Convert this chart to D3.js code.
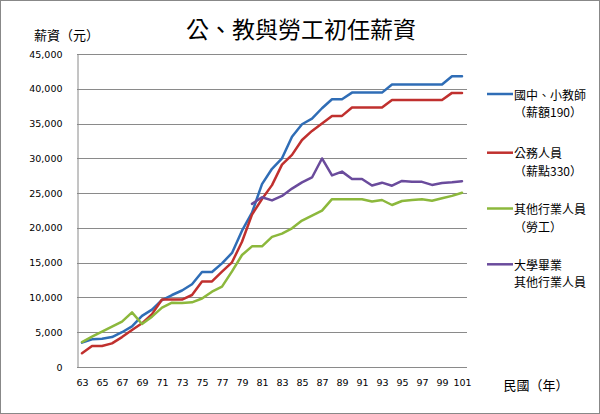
<!DOCTYPE html>
<html><head><meta charset="utf-8">
<script src="https://cdn.jsdelivr.net/npm/d3@7"></script>
<style>
html,body{margin:0;padding:0;background:#fff;}
svg{display:block;}
</style>
</head><body>
<svg id="chart" width="600" height="414"></svg>
<script>
const years = d3.range(63, 102);
const teacher = [3500,3980,4050,4300,5000,5850,7350,8250,9630,10350,11000,11900,13650,13650,14900,16400,19600,22200,26300,28500,30000,33100,34900,35700,37200,38500,38500,39450,39450,39450,39450,40610,40610,40610,40610,40610,40610,41810,41810];
const civil = [1970,3020,3020,3400,4300,5320,6280,7600,9700,9700,9700,10350,12300,12300,13710,15050,18000,21900,24150,26150,29100,30490,32640,33940,35000,36100,36100,37300,37300,37300,37300,38400,38400,38400,38400,38400,38400,39410,39410];
const labor = [3590,4360,5080,5800,6520,7860,6180,7240,8530,9250,9200,9300,9850,10830,11550,13750,16100,17350,17350,18700,19180,19940,21050,21760,22480,24130,24130,24130,24130,23800,24010,23290,23870,24010,24110,23900,24250,24600,25060];
const graduateYears = d3.range(80, 102);
const graduate = [23450,24400,23950,24600,25650,26550,27250,29980,27550,28090,27040,27040,26100,26500,26060,26750,26620,26620,26180,26440,26560,26720];
const yTicks = [0,5000,10000,15000,20000,25000,30000,35000,40000,45000];
const xTickYears = d3.range(63, 102, 2);
const legendLine1 = ["國中、小教師","公務人員","其他行業人員","大學畢業"];
const legendLine2 = ["（薪額190）","（薪點330）","（勞工）","其他行業人員"];
const seriesColors = ["#2f6db6","#c0302e","#8cb83c","#6a4b9c"];
const title = "公、教與勞工初任薪資";
const yTitle = "薪資（元）";
const xTitle = "民國（年）";

const svg = d3.select("#chart");
const L = 77, R = 467, T = 54, B = 367;
const numFont = "'DejaVu Sans', Verdana, sans-serif";
const cjkFont = "'Noto Sans CJK TC', 'Noto Sans CJK SC', sans-serif";

svg.append("rect").attr("x",0.5).attr("y",0.5).attr("width",599).attr("height",413)
  .attr("fill","#fff").attr("stroke","#888");

const x = d3.scalePoint().domain(years).range([L, R]).padding(0.5);
const y = d3.scaleLinear().domain([0,45000]).range([B, T]);

svg.append("g").selectAll("line").data(yTicks.filter(d=>d>0)).join("line")
  .attr("x1",L).attr("x2",R).attr("y1",d=>Math.round(y(d))+0.5).attr("y2",d=>Math.round(y(d))+0.5)
  .attr("stroke","#8a8a8a").attr("stroke-width",1);

const yAxis = d3.axisLeft(y).tickValues(yTicks).tickSize(0).tickPadding(15).tickFormat(d3.format(","));
const gy = svg.append("g").attr("transform",`translate(${L+0.5},0)`).call(yAxis);
gy.select(".domain").attr("stroke","#8a8a8a");
gy.selectAll("text").attr("font-family",numFont).attr("font-size","9.5px").attr("fill","#000");

const xAxis = d3.axisBottom(x).tickValues(xTickYears).tickSize(0).tickPadding(12);
const gx = svg.append("g").attr("transform",`translate(0,${B+0.5})`).call(xAxis);
gx.select(".domain").attr("stroke","#8a8a8a").attr("d",`M${L},0H${R}`);
gx.selectAll("text").attr("font-family",numFont).attr("font-size","9.5px").attr("fill","#000");

const line = d3.line().x(d=>x(d[0])).y(d=>y(d[1]));
const data = [
  d3.zip(years, teacher),
  d3.zip(years, civil),
  d3.zip(years, labor),
  d3.zip(graduateYears, graduate)
];
svg.append("g").selectAll("path").data(data).join("path")
  .attr("d", line).attr("fill","none")
  .attr("stroke",(d,i)=>seriesColors[i]).attr("stroke-width",2.5)
  .attr("stroke-linejoin","round").attr("stroke-linecap","round");

svg.append("text").attr("x",301).attr("y",38).attr("text-anchor","middle")
  .attr("font-family",cjkFont).attr("font-size","23px").attr("fill","#000").text(title);
svg.append("text").attr("x",34).attr("y",40)
  .attr("font-family",cjkFont).attr("font-size","13px").attr("fill","#000").text(yTitle);
svg.append("text").attr("x",536).attr("y",384).attr("text-anchor","middle").attr("dominant-baseline","central")
  .attr("font-family",cjkFont).attr("font-size","13px").attr("fill","#000").text(xTitle);

const legY = [94, 152.7, 208.5, 264.3];
const lg = svg.append("g");
lg.selectAll("line").data(seriesColors).join("line")
  .attr("x1",487).attr("x2",513).attr("y1",(d,i)=>legY[i]).attr("y2",(d,i)=>legY[i])
  .attr("stroke",d=>d).attr("stroke-width",2.5);
lg.selectAll("text.l1").data(legendLine1).join("text").attr("class","l1")
  .attr("x",514).attr("y",(d,i)=>legY[i]).attr("dominant-baseline","central")
  .attr("font-family",cjkFont).attr("font-size","12px").attr("fill","#000").text(d=>d);
lg.selectAll("text.l2").data(legendLine2).join("text").attr("class","l2")
  .attr("x",514).attr("y",(d,i)=>legY[i]+17.5).attr("dominant-baseline","central")
  .attr("font-family",cjkFont).attr("font-size","12px").attr("fill","#000").text(d=>d);
</script>
</body></html>
